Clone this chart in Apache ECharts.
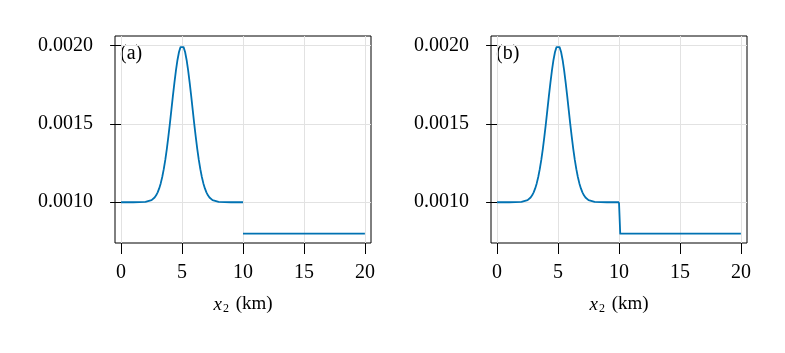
<!DOCTYPE html>
<html>
<head>
<meta charset="utf-8">
<script src="https://cdn.jsdelivr.net/npm/echarts@6/dist/echarts.min.js"></script>
<style>
  html, body { margin: 0; padding: 0; background: #fff; }
  #chart { width: 785px; height: 353px; }
</style>
</head>
<body>
<div id="chart"></div>
<script>
// bump shared by both panels (x in km)
const bumpX = [0, 1, 2, 2.5, 2.75, 2.875, 3, 3.125, 3.25, 3.375, 3.5, 3.625, 3.75, 3.875,
  4, 4.125, 4.25, 4.375, 4.5, 4.625, 4.75, 4.875, 5,
  5.125, 5.25, 5.375, 5.5, 5.625, 5.75, 5.875, 6, 6.125, 6.25, 6.375, 6.5, 6.625, 6.75, 6.875,
  7, 7.125, 7.25, 7.5, 8, 9, 10];
const bumpY = [0.001, 0.001, 0.001002, 0.001013, 0.00103, 0.001044, 0.001063, 0.001088, 0.00112, 0.001161,
  0.001211, 0.00127, 0.001339, 0.001417,
  0.0015, 0.001589, 0.001678, 0.001763, 0.001841, 0.001907, 0.001958, 0.001989, 0.002,
  0.001989, 0.001958, 0.001907, 0.001841, 0.001763, 0.001678, 0.001589, 0.0015, 0.001417,
  0.001339, 0.00127, 0.001211, 0.001161, 0.00112, 0.001088,
  0.001063, 0.001044, 0.00103, 0.001013, 0.001002, 0.001, 0.001];

// right part after x = 10
const lowXa = [10, 20];
const lowYa = [0.0008, 0.0008];
const lowXb = [10, 10.1, 20];
const lowYb = [0.001, 0.0008, 0.0008];

const xTicks = [0, 5, 10, 15, 20];
const yTicks = [0.001, 0.0015, 0.002];
const panelLabels = ['(a)', '(b)'];

const FONT = '"Liberation Serif", "DejaVu Serif", serif';
const BLUE = '#0072b2';
const grids = [
  { left: 115, top: 36, width: 256, height: 207 },
  { left: 491, top: 36, width: 256, height: 207 }
];

const zip = (xs, ys) => xs.map((x, i) => [x, ys[i]]);

const chart = echarts.init(document.getElementById('chart'));

const xAxes = grids.map((g, i) => ({
  type: 'value',
  gridIndex: i,
  min: -0.5,
  max: 20.5,
  name: '{it|x}{sub|2} (km)',
  nameLocation: 'middle',
  nameGap: 51,
  nameTextStyle: {
    fontFamily: FONT, fontSize: 19, color: '#000',
    rich: {
      it: { fontFamily: FONT, fontStyle: 'italic', fontSize: 19, color: '#000' },
      sub: { fontFamily: FONT, fontSize: 12, color: '#000', padding: [9, 2, 0, 1] }
    }
  },
  axisLine: { show: false },
  axisTick: { show: true, length: 11, inside: false, customValues: xTicks, lineStyle: { color: '#000' } },
  axisLabel: { customValues: xTicks, margin: 20, fontFamily: FONT, fontSize: 20, color: '#000' },
  splitLine: { show: true, lineStyle: { color: '#e2e2e2', width: 1 } }
}));

const yAxes = grids.map((g, i) => ({
  type: 'value',
  gridIndex: i,
  min: 0.00074,
  max: 0.00206,
  axisLine: { show: false },
  axisTick: { show: true, length: 11, inside: false, customValues: yTicks, lineStyle: { color: '#000' } },
  axisLabel: {
    customValues: yTicks, margin: 22, fontFamily: FONT, fontSize: 20, color: '#000',
    formatter: v => v.toFixed(4)
  },
  splitLine: { show: true, lineStyle: { color: '#e2e2e2', width: 1 } }
}));

const lineStyle = { color: BLUE, width: 1.8, join: 'round' };

chart.setOption({
  animation: false,
  grid: grids.map(g => Object.assign({ show: true, borderColor: '#000', borderWidth: 1, backgroundColor: 'transparent' }, g)),
  xAxis: xAxes,
  yAxis: yAxes,
  series: [
    { type: 'line', xAxisIndex: 0, yAxisIndex: 0, data: zip(bumpX, bumpY), showSymbol: false, lineStyle },
    { type: 'line', xAxisIndex: 0, yAxisIndex: 0, data: zip(lowXa, lowYa), showSymbol: false, lineStyle },
    { type: 'line', xAxisIndex: 1, yAxisIndex: 1, data: zip(bumpX, bumpY), showSymbol: false, lineStyle },
    { type: 'line', xAxisIndex: 1, yAxisIndex: 1, data: zip(lowXb, lowYb), showSymbol: false, lineStyle }
  ],
  graphic: grids.map((g, i) => ({
    type: 'text',
    left: g.left + 5,
    top: g.top + 8,
    style: { text: panelLabels[i], fontFamily: FONT, fontSize: 20, fill: '#000' }
  }))
});
</script>
</body>
</html>
